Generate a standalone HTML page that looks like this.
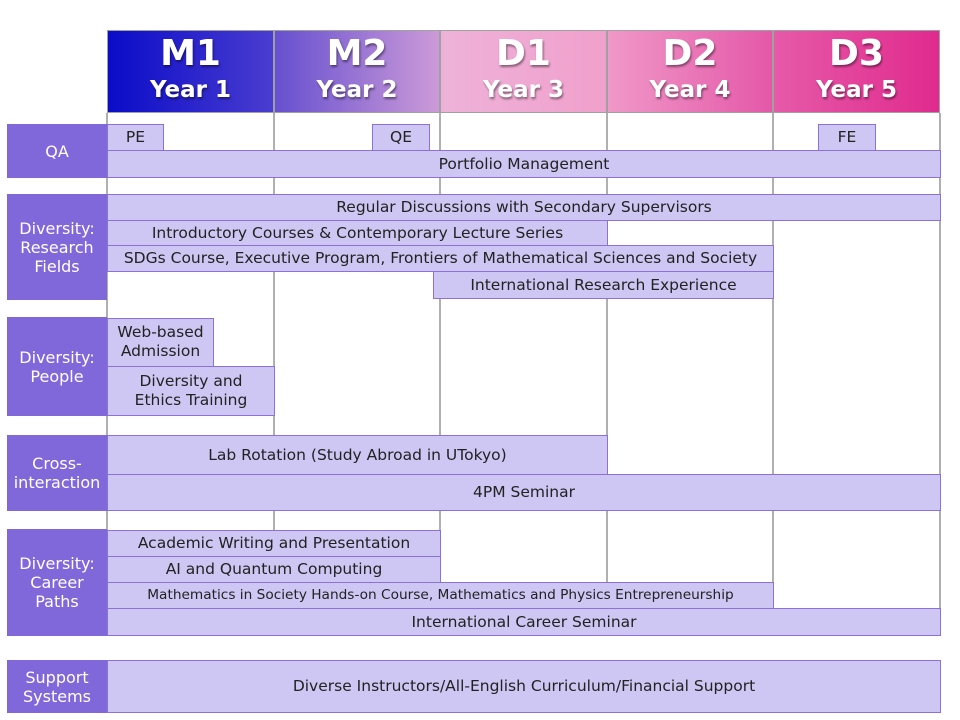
<!DOCTYPE html>
<html><head><meta charset="utf-8"><style>
body{margin:0;width:960px;height:720px;background:#fff;position:relative;overflow:hidden;font-family:"DejaVu Sans","Liberation Sans",sans-serif;}
div{position:absolute;box-sizing:border-box;}
.v{background:#b0b0b0;width:2px;top:113px;height:523px;}
.h{top:30px;height:83px;border:1px solid #a0a0a0;color:#fff;font-weight:bold;text-align:center;text-shadow:1px 2px 2px rgba(0,0,0,.45);font-family:"DejaVu Sans",sans-serif;}
.h .a{position:static;font-size:36px;line-height:42px;margin-top:2px;}
.h .y{position:static;font-size:23px;line-height:30px;}
.b{background:#cec7f3;border:1px solid #8a72da;color:#222;font-size:15.5px;display:flex;align-items:center;justify-content:center;text-align:center;line-height:19px;}
.l{background:#8068da;color:#fff;font-size:16px;display:flex;align-items:center;justify-content:center;text-align:center;line-height:19px;left:7px;width:100px;}
</style></head><body>
<div class="v" style="left:106px"></div>
<div class="v" style="left:273px"></div>
<div class="v" style="left:439px"></div>
<div class="v" style="left:606px"></div>
<div class="v" style="left:772px"></div>
<div class="v" style="left:939px"></div>
<div style="left:106px;top:635px;width:835px;height:1px;background:#b0b0b0"></div>

<div class="h" style="left:107px;width:167px;background:linear-gradient(90deg,#0a0cc8,#4a3cd0)"><div class="a">M1</div><div class="y">Year 1</div></div>
<div class="h" style="left:274px;width:166px;background:linear-gradient(90deg,#6650d0,#cc9ad8)"><div class="a">M2</div><div class="y">Year 2</div></div>
<div class="h" style="left:440px;width:167px;background:linear-gradient(90deg,#eeb2d8,#f0a0cc)"><div class="a">D1</div><div class="y">Year 3</div></div>
<div class="h" style="left:607px;width:166px;background:linear-gradient(90deg,#f098c8,#e458a8)"><div class="a">D2</div><div class="y">Year 4</div></div>
<div class="h" style="left:773px;width:167px;background:linear-gradient(90deg,#e65aa8,#e02a8e)"><div class="a">D3</div><div class="y">Year 5</div></div>

<div class="l" style="top:124px;height:54px">QA</div>
<div class="b" style="left:107px;top:124px;width:57px;height:27px">PE</div>
<div class="b" style="left:372px;top:124px;width:58px;height:27px">QE</div>
<div class="b" style="left:818px;top:124px;width:58px;height:27px">FE</div>
<div class="b" style="left:107px;top:150px;width:834px;height:28px">Portfolio Management</div>

<div class="l" style="top:194px;height:106px">Diversity:<br>Research<br>Fields</div>
<div class="b" style="left:107px;top:194px;width:834px;height:27px">Regular Discussions with Secondary Supervisors</div>
<div class="b" style="left:107px;top:220px;width:501px;height:26px">Introductory Courses &amp; Contemporary Lecture Series</div>
<div class="b" style="left:107px;top:245px;width:667px;height:27px">SDGs Course, Executive Program, Frontiers of Mathematical Sciences and Society</div>
<div class="b" style="left:433px;top:271px;width:341px;height:28px">International Research Experience</div>

<div class="l" style="top:317px;height:99px">Diversity:<br>People</div>
<div class="b" style="left:107px;top:318px;width:107px;height:49px;align-items:flex-start;padding-top:4px">Web-based<br>Admission</div>
<div class="b" style="left:107px;top:366px;width:168px;height:50px">Diversity and<br>Ethics Training</div>

<div class="l" style="top:435px;height:76px">Cross-<br>interaction</div>
<div class="b" style="left:107px;top:435px;width:501px;height:40px">Lab Rotation (Study Abroad in UTokyo)</div>
<div class="b" style="left:107px;top:474px;width:834px;height:37px">4PM Seminar</div>

<div class="l" style="top:529px;height:107px">Diversity:<br>Career<br>Paths</div>
<div class="b" style="left:107px;top:530px;width:334px;height:27px">Academic Writing and Presentation</div>
<div class="b" style="left:107px;top:556px;width:334px;height:27px">AI and Quantum Computing</div>
<div class="b" style="left:107px;top:582px;width:667px;height:27px;font-size:13.7px">Mathematics in Society Hands-on Course, Mathematics and Physics Entrepreneurship</div>
<div class="b" style="left:107px;top:608px;width:834px;height:28px">International Career Seminar</div>

<div class="l" style="top:660px;height:53px">Support<br>Systems</div>
<div class="b" style="left:107px;top:660px;width:834px;height:53px">Diverse Instructors/All-English Curriculum/Financial Support</div>
</body></html>
